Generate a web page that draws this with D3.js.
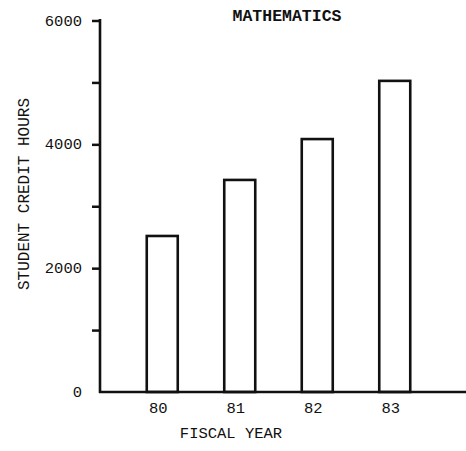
<!DOCTYPE html>
<html>
<head>
<meta charset="utf-8">
<script src="https://cdn.jsdelivr.net/npm/d3@7/dist/d3.min.js"></script>
<style>
  html, body { margin: 0; padding: 0; background: #fff; }
  svg { display: block; }
  text { font-family: "Liberation Mono", "DejaVu Sans Mono", monospace; fill: #111; }
</style>
</head>
<body>
<svg id="chart" width="466" height="451"></svg>
<script>
const years = ["80", "81", "82", "83"];
const creditHours = [2520, 3425, 4085, 5025];
const yTicks = [0, 1000, 2000, 3000, 4000, 5000, 6000];
const yTickLabels = ["0", "", "2000", "", "4000", "", "6000"];
const title = "MATHEMATICS";
const xTitle = "FISCAL YEAR";
const yTitle = "STUDENT CREDIT HOURS";

const svg = d3.select("#chart");
const W = 466, H = 451;
const x0 = 100, yBase = 392;

const x = d3.scaleBand().domain(years).range([123.5, 433.5])
  .paddingInner(0.6).paddingOuter(0.3);
const y = d3.scaleLinear().domain([0, 6000]).range([yBase, 20.5]);

// bars
svg.append("g").selectAll("rect").data(years).join("rect")
  .attr("x", d => x(d))
  .attr("y", (d, i) => y(creditHours[i]))
  .attr("width", x.bandwidth())
  .attr("height", (d, i) => yBase - y(creditHours[i]))
  .attr("fill", "#fff")
  .attr("stroke", "#111")
  .attr("stroke-width", 2.6);

// y axis
const yAxis = d3.axisLeft(y).tickValues(yTicks)
  .tickFormat((d, i) => yTickLabels[i]).tickSize(8).tickPadding(10);
const gy = svg.append("g").attr("transform", `translate(${x0},0)`).call(yAxis);
gy.select(".domain").remove();
gy.selectAll(".tick line").attr("stroke", "#111").attr("stroke-width", 2.5)
  .filter(d => d === 0).remove();
gy.selectAll(".tick text").attr("font-size", 15.5)
  .attr("font-family", "Liberation Mono").attr("fill", "#111")
  .attr("dy", "0.3em");
svg.append("line").attr("x1", x0).attr("x2", x0)
  .attr("y1", y(6000) - 1.5).attr("y2", yBase + 1)
  .attr("stroke", "#111").attr("stroke-width", 2.6);

// x axis
const xAxis = d3.axisBottom(x).tickSize(0).tickPadding(10);
const gx = svg.append("g").attr("transform", `translate(0,${yBase})`).call(xAxis);
gx.select(".domain").remove();
gx.selectAll(".tick text").attr("font-size", 15.5)
  .attr("font-family", "Liberation Mono").attr("fill", "#111")
  .attr("dx", -4);
svg.append("line").attr("x1", x0 - 1).attr("x2", W)
  .attr("y1", yBase).attr("y2", yBase)
  .attr("stroke", "#111").attr("stroke-width", 2.6);

// titles
svg.append("text").attr("x", 287).attr("y", 21)
  .attr("text-anchor", "middle").attr("font-size", 16.5)
  .attr("font-weight", "bold")
  .text(title);
svg.append("text").attr("x", 231).attr("y", 438)
  .attr("text-anchor", "middle").attr("font-size", 15.5)
  .text(xTitle);
svg.append("text")
  .attr("transform", "translate(29,194) rotate(-90)")
  .attr("text-anchor", "middle").attr("font-size", 16)
  .text(yTitle);
</script>
</body>
</html>
